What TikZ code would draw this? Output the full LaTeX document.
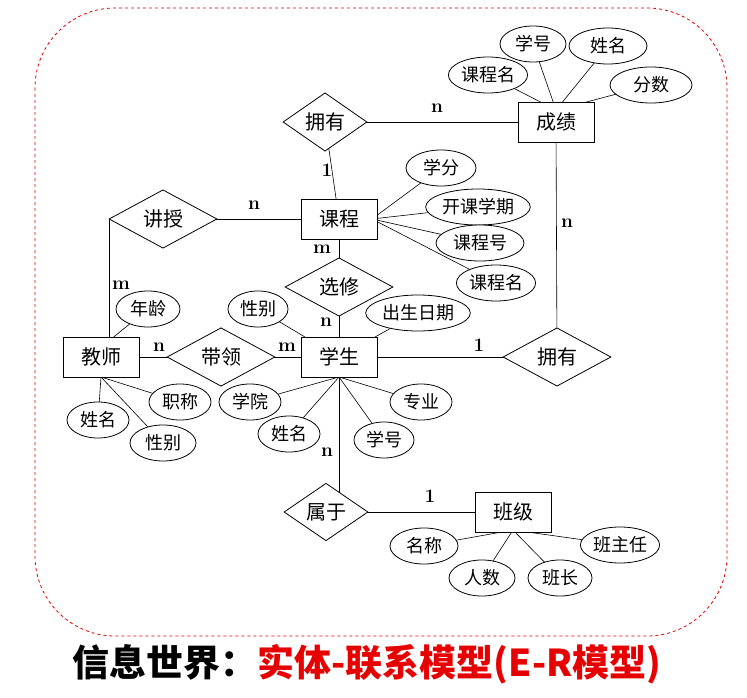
\documentclass[tikz,border=0pt]{standalone}
\usepackage{fontspec}
\newfontfamily\cjk{Noto Sans CJK SC}
\usetikzlibrary{shapes.geometric}
\definecolor{myred}{RGB}{230,0,0}
\tikzset{
 ent/.style={draw,thick,minimum width=76pt,minimum height=40pt,font=\cjk\fontsize{20}{22}\selectfont,inner sep=0pt,fill=white},
 rel/.style={draw,thick,diamond,minimum width=108pt,minimum height=52pt,inner sep=0pt,font=\cjk\fontsize{20}{22}\selectfont,fill=white},
 att/.style={draw,thick,ellipse,minimum height=36pt,inner sep=1pt,font=\cjk\fontsize{18}{20}\selectfont,fill=white},
 card/.style={font=\bfseries\fontsize{19}{21}\selectfont},
 every path/.style={semithick}
}
\begin{document}
\begin{tikzpicture}[x=1pt,y=-1pt]
\useasboundingbox (0,0) rectangle (747,698);
\draw[myred,dashed,thick,rounded corners=80pt] (35,8) rectangle (727,636);
\draw (325,122)--(556,122);
\draw (325,122)--(339,219);
\draw (556,122)--(557,357);
\draw (339,357)--(557,357);
\draw (163,219)--(339,219);
\draw (109,219)--(109,357);
\draw (339,219)--(339,357);
\draw (101,357)--(339,357);
\draw (339,357)--(339,512)--(513,512);
\foreach \p in {(533,44),(608,46),(488,75),(651,85)} \draw (556,110)--\p;
\foreach \p in {(441,168),(478,207),(480,243),(496,283)} \draw (372,219)--\p;
\draw (258,309)--(305,337); \draw (418,313)--(375,337);
\foreach \p in {(250,402),(289,434),(384,440),(421,402)} \draw (339,377)--\p;
\draw (148,309)--(110,340);
\foreach \p in {(180,402),(98,420),(163,443)} \draw (101,377)--\p;
\foreach \p in {(424,546),(482,578),(560,578),(620,545)} \draw (513,530)--\p;
\node[ent] (cj) at (556,122) {成绩};
\node[ent] (kcn) at (339,219) {课程};
\node[ent] (xsn) at (339,357) {学生};
\node[ent] (jsn) at (101,357) {教师};
\node[ent] (bjn) at (513,512) {班级};
\node[rel,minimum width=84pt] (yy1) at (325,122) {拥有};
\node[rel] (jshou) at (163,219) {讲授};
\node[rel] (xx) at (339,287) {选修};
\node[rel] (dl) at (221,357) {带领};
\node[rel] (yy2) at (557,357) {拥有};
\node[rel,minimum width=84pt] (sy) at (326,512) {属于};
\node[att,minimum width=66pt] at (533,44) {学号};
\node[att,minimum width=78pt] at (608,46) {姓名};
\node[att,minimum width=72pt] at (488,75) {课程名};
\node[att,minimum width=82pt] at (651,85) {分数};
\node[att,minimum width=70pt] at (441,168) {学分};
\node[att,minimum width=100pt] at (478,207) {开课学期};
\node[att,minimum width=88pt] at (480,243) {课程号};
\node[att,minimum width=74pt] at (496,283) {课程名};
\node[att,minimum width=60pt] at (258,309) {性别};
\node[att,minimum width=100pt] at (418,313) {出生日期};
\node[att,minimum width=64pt] at (148,309) {年龄};
\node[att,minimum width=62pt] at (180,402) {职称};
\node[att,minimum width=62pt] at (98,420) {姓名};
\node[att,minimum width=66pt] at (163,443) {性别};
\node[att,minimum width=62pt] at (250,402) {学院};
\node[att,minimum width=62pt] at (289,434) {姓名};
\node[att,minimum width=62pt] at (421,402) {专业};
\node[att,minimum width=60pt] at (384,440) {学号};
\node[att,minimum width=68pt] at (424,546) {名称};
\node[att,minimum width=66pt] at (482,578) {人数};
\node[att,minimum width=64pt] at (560,578) {班长};
\node[att,minimum width=76pt] at (620,545) {班主任};
\node[card] at (437,108) {n};
\node[card] at (327,170) {1};
\node[card] at (567,223) {n};
\node[card] at (479,345) {1};
\node[card] at (254,205) {n};
\node[card] at (121,285) {m};
\node[card] at (322,249) {m};
\node[card] at (326,322) {n};
\node[card] at (159,347) {n};
\node[card] at (287,347) {m};
\node[card] at (327,452) {n};
\node[card] at (430,496) {1};
\node[font=\cjk\bfseries\fontsize{37}{40}\selectfont] at (367,664) {信息世界：\textcolor{myred}{实体-联系模型(E-R模型)}};
\end{tikzpicture}
\end{document}
